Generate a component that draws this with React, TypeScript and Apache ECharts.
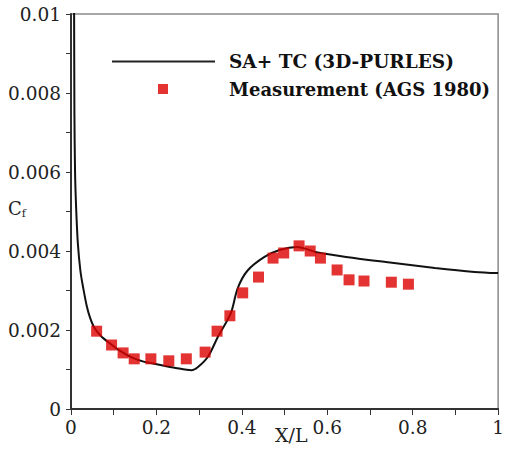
import React, { useEffect, useRef } from "react";
import * as echarts from "echarts";

const lineName = "SA+ TC (3D-PURLES)";
const measName = "Measurement (AGS 1980)";

const curveX = [0.007, 0.008, 0.0095, 0.012, 0.016, 0.022, 0.028, 0.037, 0.045, 0.055, 0.07, 0.09, 0.115, 0.143, 0.17, 0.198, 0.245, 0.282, 0.298, 0.321, 0.344, 0.374, 0.39, 0.413, 0.453, 0.49, 0.529, 0.575, 0.644, 0.737, 0.852, 0.945, 1.0];
const curveY = [0.0115, 0.0075, 0.006, 0.0051, 0.0042, 0.0035, 0.0031, 0.0026, 0.0023, 0.00205, 0.00185, 0.00167, 0.00147, 0.0013, 0.0012, 0.00114, 0.00104, 0.00098, 0.00107, 0.00133, 0.00183, 0.00242, 0.00305, 0.0035, 0.00385, 0.00403, 0.0041, 0.00397, 0.00385, 0.00372, 0.00357, 0.00347, 0.00344];

const measX = [0.06, 0.095, 0.122, 0.148, 0.187, 0.229, 0.27, 0.314, 0.342, 0.372, 0.402, 0.439, 0.473, 0.498, 0.534, 0.56, 0.584, 0.623, 0.651, 0.686, 0.75, 0.79];
const measY = [0.00197, 0.00162, 0.00142, 0.00127, 0.00127, 0.00122, 0.00127, 0.00144, 0.00197, 0.00236, 0.00294, 0.00334, 0.00382, 0.00395, 0.00413, 0.004, 0.00382, 0.00352, 0.00327, 0.00324, 0.00321, 0.00316];

const xTickLabels = ["0", "0.2", "0.4", "0.6", "0.8", "1"];
const yTickLabels = ["0", "0.002", "0.004", "0.006", "0.008", "0.01"];

const serif = "'DejaVu Serif', serif";

export default function App() {
  const ref = useRef<HTMLDivElement>(null);
  useEffect(() => {
    if (!ref.current) return;
    const chart = echarts.init(ref.current, null, { renderer: "svg" });
    const fmtX = (v: number) => {
      const s = Number(v.toFixed(3)).toString();
      return xTickLabels.includes(s) ? s : "";
    };
    const fmtY = (v: number) => {
      const s = Number(v.toFixed(4)).toString();
      return yTickLabels.includes(s) ? s : "";
    };
    chart.setOption({
      animation: false,
      backgroundColor: "#ffffff",
      grid: {
        left: 71,
        right: 3,
        top: 14,
        bottom: 43,
        show: true,
        borderColor: "#8a8a8a",
        borderWidth: 1.5,
      },
      legend: [
        {
          data: [{ name: lineName, icon: "rect" }],
          left: 107,
          top: 47,
          itemWidth: 103,
          itemHeight: 2,
          itemStyle: { color: "#222" },
          textStyle: {
            fontFamily: serif,
            fontWeight: "bold",
            fontSize: 18.5,
            color: "#111",
            padding: [0, 0, 0, 9],
          },
          selectedMode: false,
        },
        {
          data: [measName],
          left: 153,
          top: 75,
          itemWidth: 10,
          itemHeight: 10,
          icon: "rect",
          textStyle: {
            fontFamily: serif,
            fontWeight: "bold",
            fontSize: 18,
            color: "#111",
            padding: [0, 0, 0, 56],
          },
          selectedMode: false,
        },
      ],
      xAxis: {
        type: "value",
        min: 0,
        max: 1,
        interval: 0.1,
        splitLine: { show: false },
        axisLine: { show: true, onZero: false, lineStyle: { color: "#333", width: 2 } },
        axisTick: { show: true, length: 6, lineStyle: { color: "#333", width: 1 } },
        axisLabel: {
          formatter: fmtX,
          fontFamily: serif,
          fontSize: 18.5,
          color: "#222",
          margin: 9,
          showMaxLabel: true,
          showMinLabel: true,
        },
      },
      yAxis: {
        type: "value",
        min: 0,
        max: 0.01,
        interval: 0.001,
        splitLine: { show: false },
        axisLine: { show: true, onZero: false, lineStyle: { color: "#333", width: 2 } },
        axisTick: { show: true, length: 5, lineStyle: { color: "#333", width: 1 } },
        axisLabel: {
          formatter: fmtY,
          fontFamily: serif,
          fontSize: 18.5,
          color: "#222",
          margin: 10,
          showMaxLabel: true,
          showMinLabel: true,
        },
      },
      graphic: [
        {
          type: "text",
          left: 275,
          top: 425,
          style: { text: "X/L", font: "19px 'DejaVu Serif', serif", fill: "#222" },
        },
        {
          type: "text",
          left: 8,
          top: 199,
          style: {
            text: "C{s|f}",
            font: "18px 'DejaVu Serif', serif",
            fill: "#222",
            rich: {
              s: { fontSize: 11, fontFamily: serif, fill: "#222", padding: [10, 0, 0, 0] },
            },
          } as any,
        },
      ],
      series: [
        {
          name: lineName,
          type: "line",
          data: curveX.map((x, i) => [x, curveY[i]]),
          symbol: "none",
          smooth: 0.3,
          lineStyle: { color: "#111", width: 2 },
          itemStyle: { color: "#111" },
          z: 2,
        },
        {
          name: measName,
          type: "scatter",
          data: measX.map((x, i) => [x, measY[i]]),
          symbol: "rect",
          symbolSize: 11,
          itemStyle: { color: "#dd0000" },
          z: 3,
        },
      ],
    });
    return () => chart.dispose();
  }, []);
  return <div ref={ref} style={{ width: 507, height: 452, position: "absolute", left: 0, top: 0 }} />;
}
